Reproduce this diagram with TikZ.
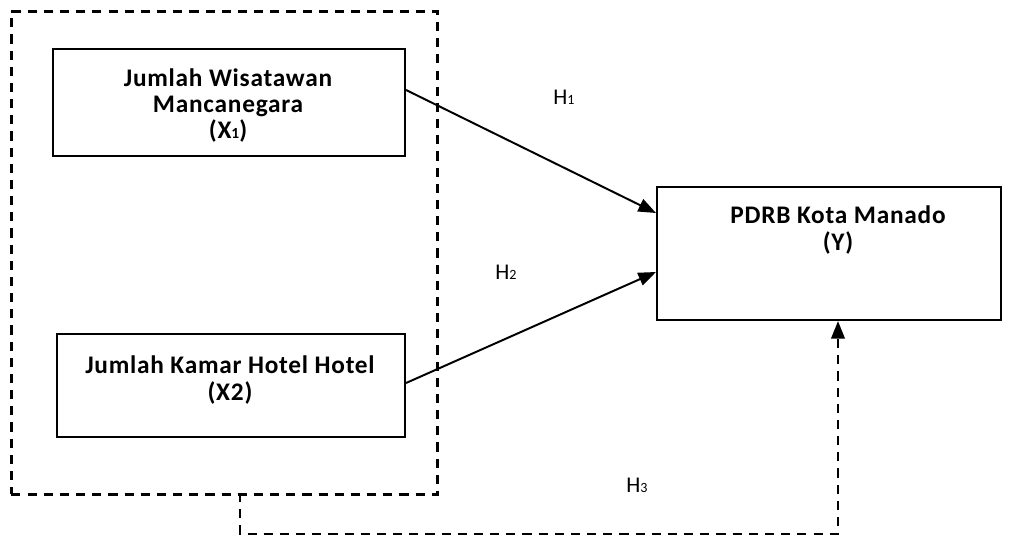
\documentclass[tikz,border=0pt]{standalone}
\usepackage{fontspec}
\setmainfont{Carlito}
\newfontfamily\boxfont[LetterSpace=3]{Carlito}
\usetikzlibrary{arrows.meta, positioning}

\begin{document}
\begin{tikzpicture}[x=0.025cm, y=-0.025cm,
    varbox/.style={draw, line width=1.4pt, inner sep=0pt, anchor=north west},
    vartext/.style={font=\boxfont\fontsize{18}{18.5}\selectfont\bfseries, align=center, inner sep=0pt, anchor=base},
    hlabel/.style={font=\fontsize{16}{18}\selectfont, anchor=base west, inner sep=0pt},
    link/.style={line width=1.4pt, -{Triangle[length=12.5pt, width=9.5pt]}},
    dashlink/.style={line width=1.9pt, dash pattern=on 6.5pt off 5pt, -{Triangle[length=12.5pt, width=9.5pt]}}]
  \useasboundingbox (0,0) rectangle (1012,538);
  % dashed frame round both predictors
  \node[draw, line width=1.9pt, dash pattern=on 6.5pt off 5pt, inner sep=0pt, anchor=north west,
        minimum width=10.65cm, minimum height=12.075cm] (grp) at (10,10) {};
  \node[varbox, minimum width=8.8cm, minimum height=2.675cm] (x1) at (52,48) {};
  \node[varbox, minimum width=8.7cm, minimum height=2.575cm] (x2) at (56,333) {};
  \node[varbox, minimum width=8.6cm, minimum height=3.325cm] (y) at (656,186) {};
  \node[vartext] (x1t) at (228,139) {Jumlah Wisatawan\\Mancanegara\\(X{\fontsize{11}{10}\selectfont 1})};
  \node[vartext] (x2t) at (230,400) {Jumlah Kamar Hotel Hotel\\(X2)};
  \node[vartext] (yt) at (838,250) {PDRB Kota Manado\\(Y)};
  % hypotheses
  \node[hlabel] (h1) at (553,105) {H{\fontsize{10}{10}\selectfont 1}};
  \node[hlabel] (h2) at (495,279) {H{\fontsize{10}{10}\selectfont 2}};
  \node[hlabel] (h3) at (626,492) {H{\fontsize{10}{10}\selectfont 3}};
  \draw[link] (x1.east |- 0,90) -- (y.west |- 0,213);
  \draw[link] (x2.east |- 0,383) -- (y.west |- 0,272);
  \coordinate (grpout) at (240,493);
  \draw[dashlink] (grpout) -- ++(0,41) -| (y.south -| 838,0);
\end{tikzpicture}
\end{document}
